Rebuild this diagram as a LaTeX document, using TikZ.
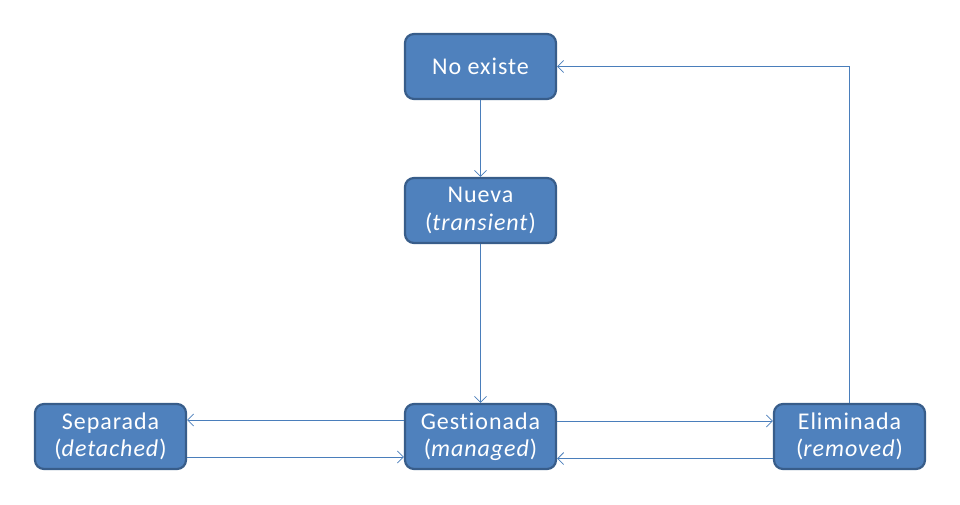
\documentclass[tikz,border=0pt]{standalone}
\usepackage{fontspec}
\setmainfont[LetterSpace=4,Ligatures={NoCommon}]{Carlito}
\usetikzlibrary{arrows.meta,calc}
\definecolor{boxfill}{HTML}{4F81BD}
\definecolor{boxline}{HTML}{385D8A}
\definecolor{conn}{HTML}{4A7EBB}
\tikzset{
  state/.style={draw=boxline, fill=boxfill, line width=2.2pt, rounded corners=9pt,
    minimum width=151pt, minimum height=65pt, text=white, align=center,
    font=\fontsize{24}{27.5}\selectfont, inner sep=0pt},
  conn/.style={draw=conn, line width=0.9pt, -{Straight Barb[length=6pt,width=12pt,line width=0.8pt]}}
}
\begin{document}
\begin{tikzpicture}[x=1pt,y=-1pt]
\useasboundingbox (0,0) rectangle (960,504);
\node[state] (noex) at (480.5,66.5) {No existe};
\node[state] (nueva) at (480.5,210.5) {Nueva\\(\textit{transient})};
\node[state] (gest) at (480.5,436.5) {Gestionada\\(\textit{managed})};
\node[state] (sep) at (110.5,436.5) {Separada\\(\textit{detached})};
\node[state] (elim) at (849.5,436.5) {Eliminada\\(\textit{removed})};
\draw[conn] (noex.south) -- (nueva.north);
\draw[conn] (nueva.south) -- (gest.north);
\draw[conn] ([yshift=16.5pt]gest.west) -- ([yshift=16.5pt]sep.east);
\draw[conn] ([yshift=-20.5pt]sep.east) -- ([yshift=-20.5pt]gest.west);
\draw[conn] ([yshift=15.5pt]gest.east) -- ([yshift=15.5pt]elim.west);
\draw[conn] ([yshift=-22pt]elim.west) -- ([yshift=-22pt]gest.east);
\draw[conn] (elim.north) |- (noex.east);
\end{tikzpicture}
\end{document}
